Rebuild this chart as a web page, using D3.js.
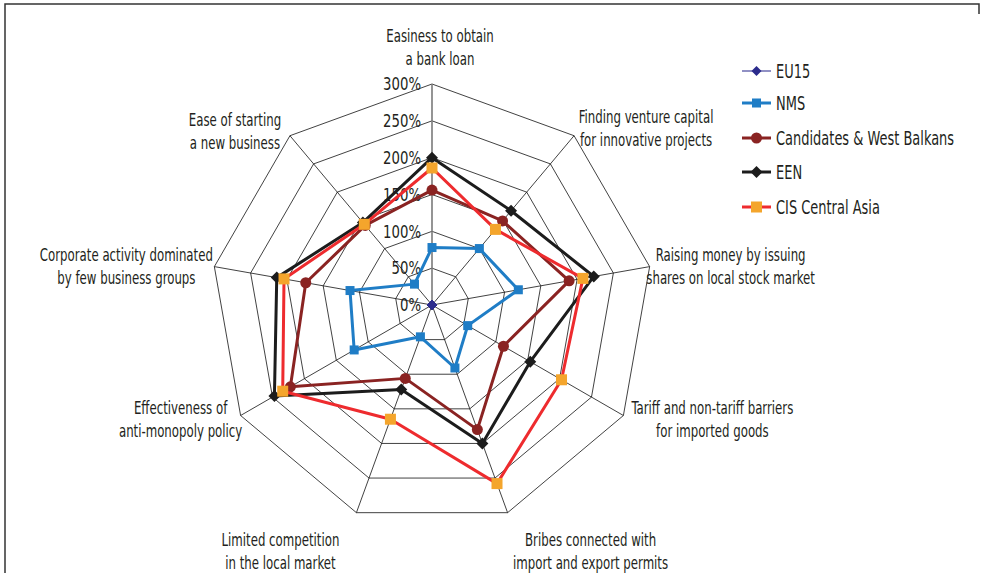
<!DOCTYPE html>
<html><head><meta charset="utf-8">
<script src="https://cdn.jsdelivr.net/npm/d3@7"></script>
<style>
html,body{margin:0;padding:0;background:#fff;}
svg{display:block;}
text{font-family:"DejaVu Sans Condensed","Liberation Sans Narrow","Roboto",sans-serif;fill:#231f20;}
</style></head><body>
<svg id="c" width="984" height="573"></svg>
<script>
const categories = [
  ["Easiness to obtain","a bank loan"],
  ["Finding venture capital","for innovative projects"],
  ["Raising money by issuing","shares on local stock market"],
  ["Tariff and non-tariff barriers","for imported goods"],
  ["Bribes connected with","import and export permits"],
  ["Limited competition","in the local market"],
  ["Effectiveness of","anti-monopoly policy"],
  ["Corporate activity dominated","by few business groups"],
  ["Ease of starting","a new business"]
];
const seriesNames = ["EU15","NMS","Candidates & West Balkans","EEN","CIS Central Asia"];
const eu15       = [0,0,0,0,0,0,0,0,0];
const nms        = [78,100,119,56,91,46,122,113,37];
const candidates = [156,149,189,112,180,106,222,174,141];
const een        = [200,167,223,154,200,122,247,214,146];
const cisCA      = [186,134,208,203,258,165,234,204,143];
const tickValues = [0,50,100,150,200,250,300];
const tickLabels = ["0%","50%","100%","150%","200%","250%","300%"];

const styles = [
  {line:"#6b6bb0", marker:"#2b2b8c", w:1.5, shape:"diamond", size:5},
  {line:"#1f7dc6", marker:"#1f7dc6", w:3, shape:"square", size:9},
  {line:"#8a2322", marker:"#8a2322", w:3, shape:"circle", size:5.5},
  {line:"#1c1c1c", marker:"#1c1c1c", w:3, shape:"diamond", size:6},
  {line:"#ee2b2e", marker:"#f4a52c", w:3, shape:"square", size:11}
];
const allSeries = [eu15, nms, candidates, een, cisCA];

const svg = d3.select("#c");
const cx = 432, cy = 305, R = 221;
const n = categories.length;
const r = d3.scaleLinear().domain([0,300]).range([0,R]);
const ang = d3.scalePoint().domain(d3.range(n)).range([0, 2*Math.PI*(n-1)/n]);
const pt = (i,v) => [cx + r(v)*Math.sin(ang(i)), cy - r(v)*Math.cos(ang(i))];

// condensed text helper
function ctext(x, y, str, size, anchor, sx){
  const gg = svg.append("g").attr("transform",`translate(${x},${y}) scale(${sx},1)`);
  gg.append("text").attr("x",0).attr("y",0).attr("dy","0.35em")
    .attr("text-anchor",anchor).attr("font-size",size).text(str);
  return gg;
}

// frame
svg.append("path").attr("d","M5,573V4H979V14").attr("fill","none").attr("stroke","#333").attr("stroke-width",1.5);

// grid rings
const g = svg.append("g");
tickValues.slice(1).forEach(t=>{
  g.append("path")
    .attr("d", d3.line()(d3.range(n).map(i=>pt(i,t))) + "Z")
    .attr("fill","none").attr("stroke","#111").attr("stroke-width",0.8);
});
// spokes
d3.range(n).forEach(i=>{
  const p = pt(i,300);
  g.append("line").attr("x1",cx).attr("y1",cy).attr("x2",p[0]).attr("y2",p[1])
    .attr("stroke", i===0 ? "#7a7a7a" : "#111").attr("stroke-width", i===0?1.6:0.8);
});

// tick labels
tickValues.forEach((t,k)=>{
  ctext(cx-11, cy - r(t), tickLabels[k], 18, "end", 0.82);
});

// category labels: position relative to outer vertex
const labOff = [
  {dx:8, dy:-48},
  {dx:72, dy:-19},
  {dx:81, dy:-12},
  {dx:89, dy:-7},
  {dx:83, dy:27},
  {dx:-76, dy:27},
  {dx:-60, dy:-7},
  {dx:-88, dy:-12},
  {dx:-55, dy:-16}
];
categories.forEach((lines,i)=>{
  const p = pt(i,300), o = labOff[i];
  lines.forEach((s,j)=>{
    ctext(p[0]+o.dx, p[1]+o.dy+j*23, s, 17, "middle", 0.77);
  });
});

// markers
function drawMarker(sel, shape, size, color){
  if(shape==="square"){
    sel.append("rect").attr("x",-size/2).attr("y",-size/2).attr("width",size).attr("height",size).attr("fill",color);
  } else if(shape==="circle"){
    sel.append("circle").attr("r",size).attr("fill",color);
  } else {
    const s=size;
    sel.append("path").attr("d",`M0,${-s}L${s},0L0,${s}L${-s},0Z`).attr("fill",color);
  }
}

// series (draw EU15 last so it sits on top at centre)
const order = [1,2,3,4,0];
order.forEach(k=>{
  const vals = allSeries[k], st = styles[k];
  const pts = vals.map((v,i)=>pt(i,v));
  svg.append("path").attr("d", d3.line()(pts)+"Z").attr("fill","none")
    .attr("stroke",st.line).attr("stroke-width",st.w).attr("stroke-linejoin","round");
  pts.forEach(p=>{
    const m = svg.append("g").attr("transform",`translate(${p[0]},${p[1]})`);
    drawMarker(m, st.shape, st.size, st.marker);
  });
});

// legend
const legY = [71,103,138,172,207];
seriesNames.forEach((name,k)=>{
  const st = styles[k], y = legY[k];
  svg.append("line").attr("x1",742).attr("x2",771).attr("y1",y).attr("y2",y)
    .attr("stroke",st.line).attr("stroke-width",st.w);
  const m = svg.append("g").attr("transform",`translate(756.5,${y})`);
  drawMarker(m, st.shape, st.size, st.marker);
  ctext(776, y, name, 19, "start", 0.76);
});
</script>
</body></html>
